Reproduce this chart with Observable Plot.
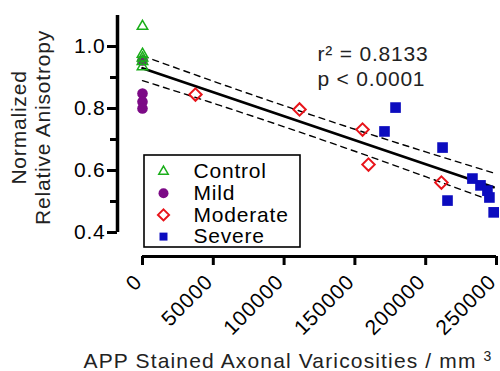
<!DOCTYPE html>
<html><head><meta charset="utf-8">
<script src="https://cdn.jsdelivr.net/npm/d3@7"></script>
<script src="https://cdn.jsdelivr.net/npm/@observablehq/plot@0.6"></script>
<style>
html,body{margin:0;padding:0;background:#fff;}
#chart{position:relative;width:500px;height:371px;overflow:hidden;}
#chart svg text{letter-spacing:0.8px;}
#chart svg g.xtitle text{letter-spacing:1.15px;}
</style></head><body><div id="chart"></div>
<script>
// ---- data ----
const controlX = [0, 0, 0, 0, 0];
const controlY = [1.065, 0.975, 0.963, 0.952, 0.935];
const mildX = [0, 0, 0, 0];
const mildY = [0.955, 0.848, 0.822, 0.800];
const moderateX = [37400, 110900, 155400, 159600, 211100];
const moderateY = [0.845, 0.797, 0.732, 0.619, 0.561];
const severeX = [170900, 178700, 211900, 215400, 233000, 238700, 243600, 245000, 248000];
const severeY = [0.726, 0.803, 0.674, 0.503, 0.574, 0.552, 0.535, 0.513, 0.465];
const fitX = [0, 248000];
const fitY = [0.930, 0.546];
const bandX = [0, 50000, 100000, 150000, 200000, 248000];
const bandUpper = [0.970, 0.888, 0.809, 0.733, 0.660, 0.592];
const bandLower = [0.890, 0.817, 0.741, 0.662, 0.580, 0.500];
const groups = ["Control", "Mild", "Moderate", "Severe"];
const xTicks = [0, 50000, 100000, 150000, 200000, 250000];
const yTicks = [0.4, 0.6, 0.8, 1.0];
const yMinorTicks = [0.5, 0.7, 0.9];
const statLines = ["r² = 0.8133", "p < 0.0001"];
const yLabelLines = ["Normalized", "Relative Anisotropy"];
const xLabel = "APP Stained Axonal Varicosities / mm";
const xLabelSup = "3";

// ---- scale setup ----
const xDomain = [-17650, 250000];
const yDomain = [0.3226, 1.1];
const yAxisSpan = [0.4, 1.1];

const pts = (xs, ys) => xs.map((x, i) => ({x, y: ys[i]}));
const styles = {
  Control: {symbol: "triangle2", stroke: "#1aae1a", fill: "none", r: 5, strokeWidth: 1.5},
  Mild: {symbol: "circle", fill: "#7c0a86", stroke: "none", r: 5.3},
  Moderate: {symbol: "diamond2", stroke: "#e8141a", fill: "none", r: 5.6, strokeWidth: 2},
  Severe: {symbol: "square", fill: "#0c0cbf", stroke: "none", r: 6}
};
const legendStyles = {
  Control: {...styles.Control, r: 4.5},
  Mild: {...styles.Mild, r: 5},
  Moderate: {...styles.Moderate, r: 5},
  Severe: {...styles.Severe, r: 4.5}
};
const series = {
  Control: pts(controlX, controlY),
  Mild: pts(mildX, mildY),
  Moderate: pts(moderateX, moderateY),
  Severe: pts(severeX, severeY)
};

const legendBox = (index, scales, values, dims) => {
  return d3.create("svg:rect")
    .attr("x", dims.marginLeft + 27).attr("y", dims.marginTop + 140)
    .attr("width", 156).attr("height", 92)
    .attr("fill", "white").attr("stroke", "black").attr("stroke-width", 1.6)
    .node();
};

const legendMarks = groups.flatMap((g, i) => [
  Plot.dot([g], {frameAnchor: "top-left", dx: 46, dy: 156 + i * 21.7, ...legendStyles[g]}),
  Plot.text([g], {frameAnchor: "top-left", dx: 76, dy: 156 + i * 21.7, text: d => d,
    textAnchor: "start", lineAnchor: "middle", fill: "black"})
]);

const chart = Plot.plot({
  width: 500, height: 371,
  marginLeft: 117, marginRight: 4, marginTop: 15, marginBottom: 115,
  style: {fontSize: "21px", fontFamily: "'Liberation Sans', Arial, sans-serif", color: "black", background: "white"},
  x: {domain: xDomain},
  y: {domain: yDomain},
  marks: [
    Plot.ruleX([xDomain[0]], {y1: yAxisSpan[0], y2: yAxisSpan[1], stroke: "black", strokeWidth: 3.5}),
    Plot.ruleY([yDomain[0]], {x1: xTicks[0], x2: xTicks[xTicks.length - 1], stroke: "black", strokeWidth: 3}),
    Plot.axisY({ticks: yTicks, anchor: "left", tickSize: 10, tickPadding: 2, strokeWidth: 3, tickFormat: d3.format(".1f"), label: null}),
    Plot.axisY({ticks: yMinorTicks, anchor: "left", tickSize: 7, strokeWidth: 3, tickFormat: () => "", label: null}),
    Plot.axisX({ticks: xTicks, anchor: "bottom", tickSize: 9, strokeWidth: 3, tickFormat: () => "", label: null}),
    Plot.axisX({ticks: xTicks, anchor: "bottom", tickSize: 0, tickPadding: 12, dx: -4, dy: 10, tickRotate: -45, tickFormat: d => String(d), label: null}),
    Plot.line(pts(bandX, bandUpper), {x: "x", y: "y", curve: "natural", stroke: "black", strokeWidth: 1.4, strokeDasharray: "6,5"}),
    Plot.line(pts(bandX, bandLower), {x: "x", y: "y", curve: "natural", stroke: "black", strokeWidth: 1.4, strokeDasharray: "6,5"}),
    Plot.line(pts(fitX, fitY), {x: "x", y: "y", stroke: "black", strokeWidth: 2.6}),
    Plot.dot(series.Moderate, {x: "x", y: "y", ...styles.Moderate}),
    Plot.dot(series.Severe, {x: "x", y: "y", ...styles.Severe}),
    Plot.dot(series.Mild, {x: "x", y: "y", ...styles.Mild}),
    Plot.dot(series.Control, {x: "x", y: "y", ...styles.Control}),
    legendBox,
    ...legendMarks,
    Plot.text([statLines.join("\n")], {frameAnchor: "top-left", dx: 200, dy: 28, text: d => d,
      textAnchor: "start", lineAnchor: "top", lineHeight: 1.19, fill: "#222"}),
    Plot.text([yLabelLines.join("\n")], {frameAnchor: "left", dx: -87, dy: -8.5, rotate: -90, text: d => d,
      textAnchor: "middle", lineAnchor: "middle", lineHeight: 1.15, fill: "#222"}),
    Plot.text([xLabel], {frameAnchor: "bottom-left", dx: -34, dy: 111, text: d => d,
      textAnchor: "start", lineAnchor: "bottom", fill: "#222", className: "xtitle"}),
    Plot.text([xLabelSup], {frameAnchor: "bottom-left", dx: 366, dy: 104, text: d => d,
      textAnchor: "start", lineAnchor: "bottom", fontSize: 14, fill: "#222"})
  ]
});
document.getElementById("chart").appendChild(chart);
</script></body></html>
